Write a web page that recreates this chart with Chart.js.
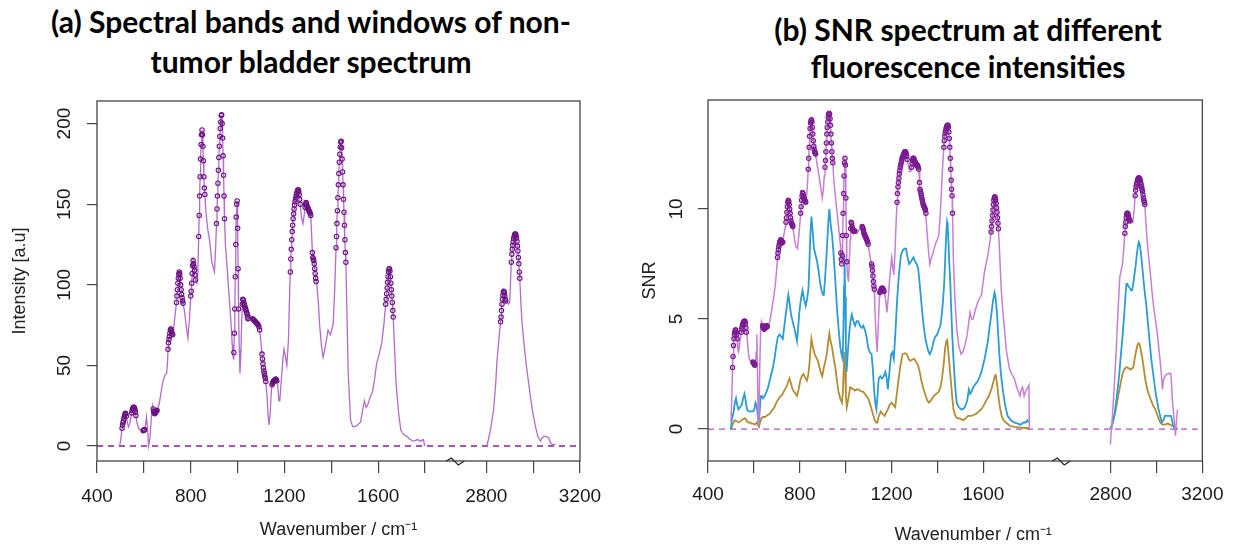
<!DOCTYPE html>
<html>
<head>
<meta charset="utf-8">
<script src="https://cdn.jsdelivr.net/npm/chart.js@4.4.1/dist/chart.umd.min.js"></script>
<style>
  body { margin:0; background:#fff; width:1234px; height:544px; overflow:hidden; position:relative; }
  .panel { position:absolute; top:0; width:617px; height:544px; }
  .ttl { position:absolute; text-align:center; font-family:Lato, "Open Sans", sans-serif; font-weight:700; font-size:30px; color:#000; white-space:nowrap; }
</style>
</head>
<body>
<div class="ttl" style="left:11px; width:600px; top:1px; line-height:40px;">(a) Spectral bands and windows of non-<br>tumor bladder spectrum</div>
<div class="ttl" style="left:668px; width:600px; top:11px; line-height:37px;">(b) SNR spectrum at different<br>fluorescence intensities</div>
<div class="panel" style="left:0"><canvas id="chartA" width="617" height="544"></canvas></div>
<div class="panel" style="left:617px"><canvas id="chartB" width="617" height="544"></canvas></div>
<script>
// broken wavenumber axis: 400-1800 then 2800-3200
var xTickMarks = [400, 600, 800, 1000, 1200, 1400, 1600, 1800, 2800, 3000, 3200];
var xTickLabels = [400, 800, 1200, 1600, 2800, 3200];
var yTicksA = [0, 50, 100, 150, 200];
var yTicksB = [0, 5, 10];

// (a) non-tumor bladder spectrum [wavenumber, intensity]
var specA = [[497,0],[503,6],[507,11],[509,13],[511,14.5],[513,15.5],[515,17],[517,18.5],[519,19.5],[521,20.3],[523,20],[525,18.5],[529,15],[534,12],[540,14],[545,18],[548,20.5],[550,22],[552,23],[554,23.8],[556,24],[558,24],[560,23.5],[562,22.5],[564,21],[566,19],[570,15],[577,11],[585,10],[592,9.5],[597,9.5],[599,9.8],[601,10],[603,10.2],[606,12],[611,18],[615,12],[620,0],[626,5],[632,18],[637,25],[640,23],[642,21.5],[644,20.5],[646,20],[648,20.3],[650,21],[652,21.5],[654,22],[656,22],[661,24],[666,26.5],[674,34],[683,41],[690,44],[697,45],[701,52],[703,60],[705,64],[707,66],[709,68],[711,70],[713,72],[715,72.5],[717,71.5],[719,70.5],[721,69.5],[723,69],[730,77],[736,85],[739,89],[741,93],[743,97],[745,101],[747,104],[749,106.5],[751,108],[753,107],[755,104],[757,100],[759,97],[761,94],[763,92],[765,90],[767,88.5],[773,84],[781,74],[788,67],[795,80],[800,93],[802,96],[804,101],[806,107],[808,112],[810,115],[812,113],[814,111],[816,109],[818,106],[820,103],[826,101],[830,106],[834,130],[836,143],[838,155],[840,167],[842,178],[844,187],[846,193],[848,196],[850,193],[852,186],[854,177],[856,167],[858,160],[860,156],[865,145],[872,135],[880,128],[890,114],[901,108],[906,122],[910,138],[912,147],[914,155],[916,163],[918,171],[920,179],[922,186],[924,192],[926,197],[928,201],[930,205],[932,205.5],[934,200],[936,191],[938,180],[940,168],[942,155],[944,141],[948,125],[958,105],[966,88],[972,76],[977,63],[980,56],[982,54],[984,58],[986,70],[988,85],[990,105],[992,125],[994,142],[996,150],[998,152],[1000,135],[1002,110],[1004,85],[1007,60],[1010,45],[1014,58],[1017,75],[1020,88],[1022,91],[1024,90.5],[1026,89],[1028,88],[1030,87],[1032,86],[1034,85],[1036,84],[1038,83],[1040,82],[1042,80],[1044,79],[1051,82],[1058,80],[1064,79],[1067,78.5],[1070,78],[1073,77.5],[1076,77],[1079,76.5],[1082,76],[1085,75.5],[1088,75],[1091,74],[1094,72],[1099,65],[1104,57],[1106,54],[1108,51],[1110,48.5],[1112,46.5],[1114,45],[1116,43.5],[1118,42],[1120,40],[1126,30],[1130,19],[1134,13],[1139,20],[1144,34],[1147,38],[1149,39],[1151,39.5],[1153,40],[1155,40.5],[1157,40.5],[1159,41],[1161,41],[1163,41.5],[1165,41],[1167,40.5],[1172,36],[1176,28],[1180,28],[1186,40],[1194,55],[1198,60],[1203,56],[1210,50],[1217,66],[1222,95],[1225,108],[1227,116],[1229,122],[1231,128],[1233,133],[1235,137],[1237,141],[1239,144],[1241,147],[1243,149.5],[1245,151.5],[1247,153],[1249,154.5],[1251,156],[1253,157],[1255,158],[1257,158.8],[1259,159],[1261,158],[1263,156],[1265,153],[1267,150],[1272,142],[1279,138],[1284,143],[1288,148],[1290,150],[1292,151],[1294,150.5],[1296,149],[1298,148],[1300,147.5],[1302,147],[1304,146],[1306,145.5],[1308,145],[1310,144],[1312,143],[1316,131],[1319,120],[1321,117],[1323,116],[1325,115],[1327,113],[1329,110],[1331,107],[1333,104],[1335,102],[1338,100],[1344,90],[1350,75],[1358,62],[1365,55],[1372,60],[1379,66],[1386,72],[1392,70],[1396,69],[1402,72],[1408,76],[1414,96],[1420,123],[1422,130],[1424,138],[1426,146],[1428,154],[1430,162],[1432,169],[1434,176],[1436,181],[1438,185.5],[1440,188.5],[1442,189],[1444,185],[1446,178],[1448,170],[1450,162],[1452,153],[1454,145],[1456,137],[1458,128],[1460,120],[1462,114],[1465,93],[1472,45],[1482,16],[1491,12],[1501,12],[1512,13],[1525,15],[1533,22],[1541,28],[1548,24],[1554,25],[1565,30],[1576,34],[1585,42],[1593,51],[1604,57],[1615,64],[1624,75],[1628,82],[1632,88],[1634,91],[1636,94.5],[1638,98],[1640,101.5],[1642,105],[1644,108],[1646,109.8],[1648,110],[1650,108.5],[1652,105],[1654,101],[1656,97],[1658,93],[1660,89],[1662,84],[1664,80],[1670,60],[1676,39],[1686,22],[1696,10],[1709,7],[1722,6],[1736,4],[1750,3],[1760,3.5],[1768,4],[1780,3],[1793,4],[1798,0],
  [2803,0],[2818,10],[2831,22],[2840,38],[2846,53],[2855,68],[2861,77],[2863,80],[2865,84],[2867,88],[2869,91],[2871,93.5],[2873,95.5],[2875,96],[2877,95],[2879,93],[2881,91],[2883,90],[2889,89.5],[2895,88],[2900,89],[2904,104],[2907,114],[2909,119],[2911,122],[2913,124.5],[2915,126.5],[2917,128.5],[2919,130],[2921,131],[2923,131.5],[2925,131.5],[2927,130.5],[2929,129],[2931,127],[2933,124],[2935,121],[2937,117],[2939,113],[2941,108],[2943,104],[2948,88],[2953,76],[2962,62],[2971,50],[2980,40],[2988,31],[2997,22],[3010,12],[3020,6],[3031,3],[3038,5],[3046,6],[3056,6],[3067,5],[3074,2],[3081,1],[3090,1],[3096,1]];

// spectral bands (wavenumber windows) marked with circles
var bandsA = [[507,525],[548,566],[597,603],[640,656],[703,723],[739,767],[800,820],[834,860],[910,944],[984,1004],[1018,1044],[1064,1094],[1104,1120],[1147,1167],[1225,1267],[1288,1312],[1319,1335],[1420,1462],[1632,1664],[2861,2883],[2907,2943]];

// (b) SNR at high / medium / low fluorescence
var snrHigh = [[500,0.3],[504,1.5],[507,2.8],[509,3.3],[511,3.8],[513,4.1],[515,4.3],[517,4.4],[519,4.5],[521,4.5],[523,4.4],[525,4.3],[527,4.1],[530,3.6],[533,3.5],[537,3.8],[541,4.1],[545,4.4],[547,4.55],[549,4.65],[551,4.75],[553,4.8],[555,4.85],[557,4.9],[559,4.9],[561,4.9],[563,4.8],[565,4.6],[567,4.4],[570,4.2],[575,3.6],[579,3.2],[585,3.1],[590,3.1],[596,3.05],[598,3.0],[600,3.0],[602,2.95],[604,2.9],[607,2.9],[610,3.5],[613,4.3],[616,2.5],[619,0.2],[622,0.5],[626,3.0],[630,4.7],[633,4.9],[636,4.8],[638,4.7],[640,4.65],[642,4.6],[644,4.55],[646,4.55],[648,4.6],[650,4.6],[652,4.65],[654,4.7],[656,4.7],[658,4.65],[662,4.6],[669,4.9],[676,5.3],[685,5.9],[693,6.5],[699,7.2],[703,7.8],[705,8.0],[707,8.15],[709,8.3],[711,8.4],[713,8.5],[715,8.55],[717,8.6],[719,8.55],[721,8.5],[723,8.45],[726,8.5],[732,8.9],[737,9.2],[740,9.4],[742,9.6],[744,9.85],[746,10.1],[748,10.3],[750,10.4],[752,10.35],[754,10.2],[756,10.0],[758,9.8],[760,9.6],[762,9.45],[764,9.35],[766,9.3],[768,9.25],[770,9.2],[776,8.7],[783,8.3],[790,8.2],[796,8.8],[801,9.4],[804,9.8],[806,10.1],[808,10.4],[810,10.6],[812,10.75],[814,10.7],[816,10.6],[818,10.5],[820,10.45],[822,10.4],[824,10.35],[826,10.3],[830,10.6],[834,11.2],[837,11.8],[839,12.3],[841,12.8],[843,13.3],[845,13.65],[847,13.9],[849,14.0],[851,14.05],[853,13.95],[855,13.7],[857,13.4],[859,13.1],[861,12.85],[863,12.7],[865,12.6],[867,12.55],[869,12.5],[876,12.0],[884,11.5],[891,11.0],[898,10.5],[903,10.9],[907,11.5],[910,11.9],[912,12.2],[914,12.6],[916,13.0],[918,13.4],[920,13.7],[922,13.95],[924,14.15],[926,14.3],[928,14.35],[930,14.3],[932,14.1],[934,13.8],[936,13.4],[938,13.0],[940,12.6],[942,12.3],[944,12.1],[948,11.4],[955,10.6],[962,9.9],[970,9.1],[977,8.4],[979,8.0],[981,7.7],[983,7.5],[985,7.9],[987,8.8],[989,9.8],[991,10.7],[993,11.5],[995,12.1],[997,12.3],[999,12.0],[1001,10.5],[1003,8.8],[1005,7.6],[1008,7.0],[1012,6.7],[1016,7.6],[1020,8.6],[1022,9.1],[1024,9.4],[1026,9.35],[1028,9.2],[1030,9.1],[1032,9.05],[1034,9.0],[1036,9.0],[1038,9.0],[1040,9.0],[1045,8.9],[1050,8.9],[1056,9.0],[1062,9.1],[1068,9.2],[1072,9.2],[1074,9.15],[1076,9.1],[1078,9.0],[1080,8.9],[1082,8.85],[1084,8.8],[1086,8.75],[1088,8.7],[1090,8.65],[1092,8.6],[1094,8.55],[1096,8.5],[1098,8.4],[1104,8.0],[1110,7.6],[1113,7.5],[1115,7.4],[1117,7.2],[1119,6.95],[1121,6.7],[1123,6.5],[1125,6.35],[1127,5.6],[1132,4.4],[1137,3.5],[1142,4.6],[1147,6.0],[1149,6.2],[1151,6.25],[1153,6.3],[1155,6.35],[1157,6.4],[1159,6.4],[1161,6.4],[1163,6.35],[1165,6.3],[1167,6.25],[1170,6.2],[1175,5.8],[1180,5.3],[1186,6.0],[1191,6.7],[1196,7.3],[1201,7.8],[1205,7.4],[1210,7.0],[1215,8.0],[1220,9.4],[1224,10.3],[1226,10.7],[1228,11.0],[1230,11.2],[1232,11.4],[1234,11.6],[1236,11.75],[1238,11.9],[1240,12.0],[1242,12.1],[1244,12.2],[1246,12.3],[1248,12.35],[1250,12.4],[1252,12.45],[1254,12.5],[1256,12.55],[1258,12.6],[1260,12.6],[1262,12.58],[1264,12.5],[1266,12.4],[1268,12.25],[1273,12.0],[1279,11.7],[1284,11.7],[1288,11.9],[1290,12.05],[1292,12.2],[1294,12.3],[1296,12.3],[1298,12.25],[1300,12.2],[1302,12.15],[1304,12.1],[1306,12.05],[1308,12.0],[1310,12.0],[1312,12.0],[1314,11.95],[1316,11.9],[1318,11.8],[1320,11.7],[1322,11.2],[1324,10.9],[1326,10.8],[1328,10.7],[1330,10.6],[1332,10.5],[1334,10.4],[1336,10.3],[1338,10.2],[1340,10.15],[1342,10.1],[1344,10.05],[1346,10.0],[1348,9.95],[1350,9.8],[1356,8.8],[1362,8.0],[1367,7.5],[1374,7.8],[1381,8.0],[1391,8.4],[1399,8.6],[1406,8.8],[1411,9.5],[1416,10.5],[1422,11.8],[1428,12.8],[1430,13.1],[1432,13.3],[1434,13.45],[1436,13.55],[1438,13.65],[1440,13.72],[1442,13.78],[1444,13.8],[1446,13.8],[1448,13.7],[1450,13.5],[1452,13.2],[1454,12.8],[1456,12.3],[1458,11.8],[1460,11.3],[1462,10.9],[1464,10.6],[1466,9.8],[1470,7.6],[1477,5.8],[1484,4.6],[1493,3.8],[1503,3.4],[1511,3.5],[1520,3.8],[1530,4.3],[1542,5.3],[1549,5.0],[1556,5.0],[1565,5.4],[1577,5.8],[1592,6.1],[1606,7.2],[1620,7.9],[1630,8.6],[1634,8.95],[1636,9.2],[1638,9.45],[1640,9.7],[1642,9.95],[1644,10.2],[1646,10.4],[1648,10.5],[1650,10.55],[1652,10.5],[1654,10.4],[1656,10.25],[1658,10.05],[1660,9.85],[1662,9.6],[1664,9.35],[1666,9.1],[1670,8.3],[1678,6.4],[1685,5.4],[1692,4.6],[1700,3.6],[1713,2.8],[1724,2.5],[1735,2.3],[1749,1.8],[1760,1.5],[1766,1.8],[1771,1.9],[1775,1.7],[1778,1.5],[1784,1.7],[1789,1.8],[1794,1.9],[1799,2.0],[1801,0],
  [2799,-0.7],[2803,0.0],[2806,0.3],[2815,1.8],[2823,3.3],[2832,5.3],[2840,6.9],[2852,7.5],[2858,8.3],[2862,8.9],[2864,9.2],[2866,9.4],[2868,9.6],[2870,9.75],[2872,9.8],[2874,9.8],[2876,9.75],[2878,9.65],[2880,9.55],[2882,9.5],[2884,9.45],[2890,9.4],[2897,9.4],[2903,10.0],[2907,10.6],[2909,10.85],[2911,11.0],[2913,11.1],[2915,11.2],[2917,11.3],[2919,11.35],[2921,11.4],[2923,11.42],[2925,11.4],[2927,11.35],[2929,11.3],[2931,11.2],[2933,11.1],[2935,11.0],[2937,10.9],[2939,10.8],[2941,10.65],[2943,10.5],[2945,10.4],[2947,10.3],[2949,10.2],[2954,9.4],[2959,8.6],[2966,7.8],[2973,7.1],[2980,6.3],[2987,5.6],[2995,5.0],[3002,4.5],[3009,3.8],[3016,3.1],[3022,2.4],[3026,1.8],[3030,2.2],[3037,2.4],[3045,2.5],[3052,2.5],[3058,2.55],[3063,2.5],[3067,1.8],[3070,1.2],[3073,0.9],[3078,0.3],[3083,-0.3],[3087,0.4],[3092,0.9]];

var snrMid = [[500,0],[505,0.5],[512,0.8],[517,1.2],[522,1.4],[527,1.1],[533,0.9],[540,1.0],[547,1.1],[553,1.4],[559,1.6],[564,1.3],[570,0.9],[577,0.8],[583,0.8],[590,0.8],[597,0.8],[602,0.9],[607,1.2],[611,1.1],[615,0.8],[619,0.4],[622,0.3],[626,0.9],[630,1.5],[635,1.5],[640,1.4],[647,1.5],[655,1.7],[662,1.9],[669,2.2],[676,2.5],[683,2.8],[690,3.2],[698,3.8],[705,4.2],[712,4.3],[719,4.2],[726,4.1],[733,4.7],[740,5.3],[745,5.7],[750,6.1],[756,5.7],[762,5.2],[769,4.9],[776,4.6],[782,4.3],[788,4.0],[793,4.6],[798,5.3],[805,5.9],[812,6.3],[819,5.9],[826,5.6],[832,5.9],[838,6.4],[842,7.5],[846,8.8],[851,9.65],[856,9.0],[862,8.2],[869,7.9],[876,7.6],[882,7.2],[888,6.7],[895,6.3],[901,6.1],[905,6.1],[910,6.8],[915,7.6],[920,8.5],[925,9.5],[929,10.0],[933,9.5],[937,9.1],[941,8.8],[947,8.0],[952,7.2],[957,6.4],[962,5.5],[969,4.6],[977,3.7],[982,3.4],[987,3.2],[990,4.5],[993,6.5],[995,7.9],[998,6.0],[1001,3.8],[1004,2.6],[1009,3.4],[1015,4.3],[1021,4.9],[1027,5.2],[1034,4.9],[1041,4.7],[1048,4.9],[1055,4.9],[1062,4.7],[1070,4.6],[1077,4.7],[1084,4.5],[1091,4.2],[1098,3.7],[1105,3.5],[1113,3.4],[1118,2.8],[1124,1.8],[1129,1.2],[1134,0.9],[1139,1.5],[1144,2.3],[1151,2.4],[1158,2.3],[1166,2.4],[1173,2.6],[1179,2.3],[1184,1.8],[1191,2.6],[1198,3.4],[1204,3.5],[1210,3.2],[1217,4.4],[1224,5.8],[1232,7.0],[1241,7.9],[1248,8.1],[1256,8.2],[1263,8.2],[1270,7.8],[1277,7.5],[1284,7.6],[1290,7.7],[1296,7.8],[1303,7.6],[1310,7.5],[1316,7.3],[1321,6.8],[1327,6.1],[1334,5.3],[1341,4.6],[1348,4.1],[1356,3.7],[1362,3.5],[1367,3.4],[1375,3.6],[1384,4.0],[1391,4.2],[1399,4.3],[1406,4.5],[1413,4.7],[1420,5.3],[1425,5.9],[1430,6.7],[1435,8.0],[1439,9.0],[1442,9.4],[1445,9.2],[1449,8.3],[1452,7.5],[1456,6.7],[1460,5.5],[1465,4.2],[1470,3.2],[1477,2.0],[1484,1.2],[1493,1.0],[1503,0.9],[1511,0.9],[1520,1.0],[1530,1.3],[1537,1.8],[1543,1.6],[1549,1.7],[1556,1.9],[1563,2.0],[1570,2.1],[1577,2.2],[1585,2.4],[1592,2.6],[1599,2.9],[1606,3.2],[1613,3.6],[1620,4.0],[1627,4.6],[1635,5.2],[1642,5.8],[1649,6.2],[1653,6.0],[1657,5.6],[1660,5.2],[1665,4.3],[1670,3.4],[1677,2.5],[1685,1.8],[1695,1.1],[1706,0.6],[1720,0.4],[1735,0.3],[1750,0.25],[1763,0.2],[1775,0.3],[1785,0.3],[1792,0.4],[1799,0.3],
  [2800,0],[2808,0.3],[2816,0.6],[2826,1.4],[2837,2.4],[2845,3.4],[2852,4.2],[2860,5.3],[2865,6.1],[2869,6.6],[2873,6.6],[2877,6.5],[2884,6.4],[2890,6.3],[2894,6.3],[2900,6.7],[2905,7.1],[2909,7.4],[2914,7.9],[2919,8.3],[2923,8.5],[2927,8.4],[2932,8.0],[2937,7.5],[2943,6.8],[2949,6.2],[2955,5.7],[2962,4.9],[2969,4.1],[2977,3.2],[2987,2.4],[2997,1.6],[3009,0.9],[3016,0.6],[3023,0.3],[3030,0.4],[3037,0.6],[3045,0.6],[3055,0.6],[3063,0.6],[3068,0.4],[3072,0.2],[3078,0],[3092,0]];

var snrLow = [[500,0],[507,0.2],[514,0.35],[519,0.4],[526,0.35],[533,0.3],[540,0.35],[547,0.4],[553,0.45],[559,0.5],[565,0.45],[570,0.35],[576,0.3],[583,0.3],[590,0.25],[597,0.25],[605,0.2],[612,0.3],[617,0.2],[622,0.1],[627,0.3],[633,0.5],[640,0.55],[648,0.55],[655,0.6],[662,0.65],[669,0.7],[676,0.8],[683,0.9],[690,1.0],[698,1.2],[706,1.35],[716,1.5],[723,1.55],[730,1.7],[738,1.85],[745,2.0],[750,2.15],[755,2.3],[760,2.15],[765,1.95],[769,1.8],[775,1.7],[782,1.6],[788,1.5],[795,1.8],[802,2.2],[809,2.4],[816,2.5],[823,2.35],[831,2.2],[836,2.4],[841,2.8],[846,3.5],[851,4.1],[856,3.8],[865,3.4],[872,3.25],[879,3.1],[886,2.8],[892,2.55],[898,2.4],[905,2.8],[912,3.1],[919,3.5],[924,4.0],[929,4.35],[934,4.0],[941,3.7],[948,3.2],[955,2.8],[962,2.2],[969,1.7],[976,1.4],[984,1.2],[988,1.7],[991,2.6],[995,3.5],[998,2.6],[1001,1.5],[1005,1.0],[1012,1.4],[1020,1.9],[1027,1.85],[1034,1.8],[1041,1.75],[1048,1.8],[1055,1.8],[1062,1.75],[1070,1.7],[1077,1.7],[1084,1.6],[1091,1.5],[1098,1.4],[1105,1.2],[1113,0.9],[1120,0.65],[1127,0.4],[1133,0.3],[1138,0.3],[1145,0.6],[1153,0.8],[1160,0.7],[1166,0.65],[1170,0.6],[1177,0.75],[1184,0.9],[1192,1.1],[1201,1.2],[1208,1.1],[1216,1.0],[1223,1.6],[1230,2.2],[1239,2.9],[1248,3.4],[1257,3.45],[1267,3.4],[1274,3.2],[1281,3.1],[1290,3.15],[1298,3.2],[1307,3.05],[1316,2.9],[1323,2.6],[1330,2.2],[1340,1.8],[1349,1.5],[1356,1.3],[1363,1.2],[1372,1.3],[1384,1.5],[1395,1.6],[1406,1.7],[1413,1.9],[1420,2.3],[1427,2.9],[1434,3.7],[1439,4.0],[1443,4.05],[1447,3.6],[1451,3.1],[1456,2.5],[1461,1.9],[1466,1.3],[1470,0.9],[1477,0.65],[1484,0.5],[1492,0.5],[1503,0.45],[1513,0.4],[1524,0.5],[1534,0.6],[1541,0.6],[1549,0.6],[1560,0.65],[1570,0.7],[1580,0.8],[1592,0.9],[1603,1.1],[1613,1.3],[1624,1.5],[1635,1.8],[1643,2.1],[1650,2.4],[1654,2.45],[1658,2.2],[1662,1.9],[1666,1.5],[1671,1.1],[1676,0.8],[1680,0.6],[1688,0.4],[1699,0.3],[1715,0.15],[1735,0.1],[1755,0.08],[1778,0.05],[1799,0.05],
  [2800,0],[2810,0.3],[2823,0.9],[2833,1.5],[2844,2.1],[2852,2.5],[2859,2.7],[2866,2.8],[2873,2.8],[2880,2.75],[2887,2.7],[2893,2.75],[2899,2.8],[2905,3.2],[2912,3.6],[2918,3.85],[2923,3.9],[2928,3.8],[2933,3.5],[2937,3.3],[2944,2.8],[2952,2.2],[2960,1.8],[2966,1.6],[2973,1.4],[2984,1.1],[2995,0.9],[3005,0.6],[3016,0.3],[3026,0.2],[3037,0.2],[3048,0.25],[3059,0.2],[3068,0.15],[3080,0.1],[3092,0]];

var bandsB = [[507,527],[545,567],[596,604],[638,658],[703,726],[740,770],[804,826],[837,869],[910,944],[979,1005],[1022,1040],[1072,1098],[1113,1125],[1149,1167],[1224,1268],[1288,1318],[1322,1350],[1428,1466],[1634,1666],[2862,2884],[2907,2949]];

var CUT = 2500;
var FONT = '"Liberation Sans", Arial, sans-serif';

function inBands(w, bands) {
  for (var i = 0; i < bands.length; i++) {
    if (w >= bands[i][0] && w <= bands[i][1]) return true;
  }
  return false;
}

function linePoints(spec, toX) {
  var pts = [];
  for (var i = 0; i < spec.length; i++) {
    var w = spec[i][0];
    if (i > 0 && spec[i - 1][0] < CUT && w >= CUT) pts.push({x: 2000, y: null});
    pts.push({x: toX(w), y: spec[i][1]});
  }
  return pts;
}

function bandPoints(spec, bands, toX) {
  return spec.filter(function (p) { return inBands(p[0], bands); })
             .map(function (p) { return {x: toX(p[0]), y: p[1]}; });
}

var framePlugin = {
  id: 'frame',
  afterDraw: function (chart, args, opts) {
    var ctx = chart.ctx, a = chart.chartArea;
    ctx.save();
    ctx.strokeStyle = '#444';
    ctx.lineWidth = 1.3;
    ctx.strokeRect(a.left, a.top, a.right - a.left, a.bottom - a.top);
    // axis break mark
    var bx = chart.scales.x.getPixelForValue(opts.breakAt), by = a.bottom;
    ctx.strokeStyle = '#222';
    ctx.lineWidth = 1.2;
    ctx.beginPath();
    ctx.moveTo(bx - 9, by);
    ctx.lineTo(bx - 4, by - 3);
    ctx.lineTo(bx + 3, by + 4);
    ctx.lineTo(bx + 9, by);
    ctx.stroke();
    ctx.restore();
  }
};

function buildChart(id, o) {
  var toX = function (w) { return w < CUT ? w : w - o.cut; };
  var xMax = toX(3200);
  var datasets = [];
  o.series.forEach(function (s, i) {
    datasets.push({
      data: linePoints(s.spec, toX), borderColor: s.color, borderWidth: s.width,
      pointRadius: 0, order: 2 + i
    });
  });
  datasets.push({
    data: bandPoints(o.series[0].spec, o.bands, toX), showLine: false,
    pointRadius: 2.2, borderWidth: 1.1, pointBorderColor: o.markColor,
    pointBackgroundColor: o.markFill, order: 0
  });
  datasets.push({
    data: [{x: 400, y: 0}, {x: xMax, y: 0}], borderColor: o.zeroColor,
    borderWidth: 1.3, borderDash: [6, 5], pointRadius: 0, order: 10
  });

  return new Chart(document.getElementById(id).getContext('2d'), {
    type: 'line',
    data: { datasets: datasets },
    options: {
      responsive: false,
      animation: false,
      devicePixelRatio: 1,
      layout: { padding: { left: 0, top: o.area.top, right: 617 - o.area.right, bottom: 0 } },
      plugins: { legend: { display: false }, tooltip: { enabled: false }, frame: { breakAt: o.breakAt } },
      scales: {
        x: {
          type: 'linear', min: 400, max: xMax,
          afterBuildTicks: function (s) { s.ticks = xTickMarks.map(function (w) { return {value: toX(w)}; }); },
          afterFit: function (s) { s.height = 544 - o.area.bottom; },
          ticks: {
            autoSkip: false, minRotation: 0, maxRotation: 0, padding: o.xTickPad,
            color: '#1a1a1a', font: { family: FONT, size: 19 },
            callback: function (v) {
              var w = Math.round(v > 1900 ? v + o.cut : v);
              return xTickLabels.indexOf(w) >= 0 ? String(w) : '';
            }
          },
          grid: { drawOnChartArea: false, drawTicks: true, tickLength: 12, color: '#444', lineWidth: 1.2 },
          border: { display: false },
          title: { display: true, text: o.xTitle, color: '#222',
                   font: { family: FONT, size: 18, lineHeight: 1 }, padding: { top: 0, bottom: o.xTitlePad } }
        },
        y: {
          min: o.yMin, max: o.yMax,
          afterBuildTicks: function (s) { s.ticks = o.yTicks.map(function (v) { return {value: v}; }); },
          afterFit: function (s) { s.width = o.area.left; },
          ticks: { minRotation: 90, maxRotation: 90, crossAlign: 'center', padding: o.yTickPad,
                   color: '#1a1a1a', font: { family: FONT, size: 19 } },
          grid: { drawOnChartArea: false, drawTicks: true, tickLength: 10, color: '#444', lineWidth: 1.2 },
          border: { display: false },
          title: { display: true, text: o.yTitle, color: '#222',
                   font: { family: FONT, size: 18, lineHeight: 1 }, padding: { top: o.yTitlePad, bottom: 0 } }
        }
      }
    },
    plugins: [framePlugin]
  });
}

buildChart('chartA', {
  cut: 739, breakAt: 1929,
  area: { left: 97, right: 580, top: 101, bottom: 461 },
  yMin: -9.3, yMax: 214, yTicks: yTicksA, yTitle: 'Intensity [a.u]',
  xTitle: 'Wavenumber / cm\u207B\u00B9',
  xTickPad: 12.5, yTickPad: 6, xTitlePad: 5, yTitlePad: 11,
  series: [{ spec: specA, color: '#B46BCB', width: 1.3 }],
  bands: bandsA, markColor: '#6B1282', markFill: 'rgba(255,255,255,0)', zeroColor: '#8A1C9E'
});

buildChart('chartB', {
  cut: 645, breakAt: 1940,
  area: { left: 91, right: 595, top: 100, bottom: 461 },
  yMin: -1.45, yMax: 14.95, yTicks: yTicksB, yTitle: 'SNR',
  xTitle: '\u2003\u2003Wavenumber / cm\u207B\u00B9',
  xTickPad: 10.5, yTickPad: 11, xTitlePad: 0, yTitlePad: 24,
  series: [
    { spec: snrHigh, color: '#C77FD6', width: 1.5 },
    { spec: snrMid, color: '#2A9CD6', width: 1.8 },
    { spec: snrLow, color: '#B48C32', width: 1.8 }
  ],
  bands: bandsB, markColor: '#7A1A90', markFill: 'rgba(122,26,144,0.25)', zeroColor: '#AF50BE'
});
</script>
</body>
</html>
